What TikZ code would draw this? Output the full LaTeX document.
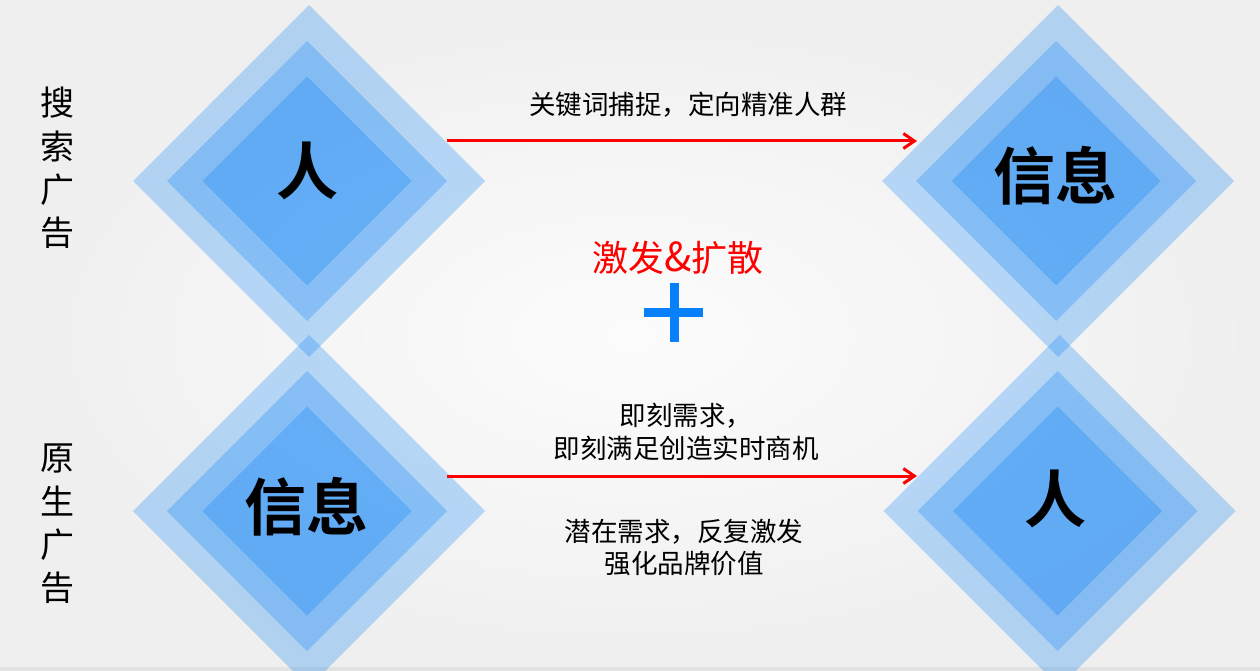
\documentclass[tikz,border=0pt]{standalone}
\usepackage{fontspec}
\setmainfont{Noto Sans CJK SC}[BoldFont=* Bold]
\usetikzlibrary{shapes.geometric,arrows.meta}
\definecolor{dblue}{RGB}{0,125,248}
\definecolor{plusblue}{RGB}{8,128,250}
\definecolor{arrred}{RGB}{255,0,0}
\definecolor{bgin}{RGB}{252,252,252}
\definecolor{bgout}{RGB}{239,239,239}
\definecolor{stripe}{RGB}{226,226,226}
\tikzset{
  layer/.style={diamond, aspect=1, inner sep=0pt, outer sep=0pt, fill=dblue, fill opacity=0.26, draw=none},
  outerdia/.style={layer, minimum width=352pt, minimum height=352pt},
  middia/.style={layer, minimum width=280pt, minimum height=280pt},
  innerdia/.style={layer, minimum width=209pt, minimum height=209pt},
  biglabel/.style={font=\bfseries\fontsize{62}{62}\selectfont, text=black, inner sep=0pt},
  sidelabel/.style={font=\fontsize{34}{43.3}\selectfont, align=center, inner sep=0pt, text=black},
  desc/.style={font=\fontsize{26.5}{33}\selectfont, align=center, inner sep=0pt, text=black},
  hilite/.style={font=\fontsize{36}{36}\selectfont, inner sep=0pt, text=arrred},
  flow/.style={draw=arrred, line width=3pt, -{Straight Barb[length=11pt,width=15pt,line width=3pt]}},
  plusbar/.style={fill=plusblue, draw=none},
}
\begin{document}
\begin{tikzpicture}[x=1pt,y=-1pt]
\useasboundingbox (0,0) rectangle (1260,671);
\shade[inner color=bgin, outer color=bgout] (0,0) rectangle (1260,671);
\fill[stripe] (0,667) rectangle (1260,671);

% top-left group
\node[outerdia] (tlo) at (309,181) {};
\node[middia]   (tlm) at (307,181) {};
\node[innerdia] (tli) at (307,181) {};
% top-right group
\node[outerdia] (tro) at (1058,181) {};
\node[middia]   (trm) at (1056,181) {};
\node[innerdia] (tri) at (1056,181) {};
% bottom-left group
\node[outerdia] (blo) at (309,511) {};
\node[middia]   (blm) at (307,511) {};
\node[innerdia] (bli) at (307,511) {};
% bottom-right group
\node[outerdia] (bro) at (1059.5,511) {};
\node[middia]   (brm) at (1057.5,511) {};
\node[innerdia] (bri) at (1057.5,511) {};

% diamond labels
\node[biglabel] (tlt) at (307,171) {人};
\node[biglabel] (trt) at (1055,176) {信息};
\node[biglabel] (blt) at (306,507) {信息};
\node[biglabel] (brt) at (1055,499) {人};

% side labels
\node[sidelabel] (s1) at (57,168) {搜\\索\\广\\告};
\node[sidelabel] (s2) at (57,524) {原\\生\\广\\告};

% arrows
\coordinate (a1s) at (447,141);
\coordinate (a1e) at (917,141);
\coordinate (a2s) at (447,476);
\coordinate (a2e) at (917,476);
\draw[flow] (a1s) -- (a1e);
\draw[flow] (a2s) -- (a2e);

% texts
\node[desc] (t1) at (688,105) {关键词捕捉，定向精准人群};
\node[hilite] (t2) at (678,258) {激发{\fontsize{40}{40}\selectfont\&}扩散};
\node[desc] (t3) at (686,431.5) {即刻需求，\\即刻满足创造实时商机};
\node[desc, font=\fontsize{26.5}{31.5}\selectfont] (t4) at (684,547.5) {潜在需求，反复激发\\强化品牌价值};

% plus sign
\fill[plusbar] (644,308) rectangle (703,317);
\fill[plusbar] (669.5,283) rectangle (678.5,342);
\end{tikzpicture}
\end{document}
